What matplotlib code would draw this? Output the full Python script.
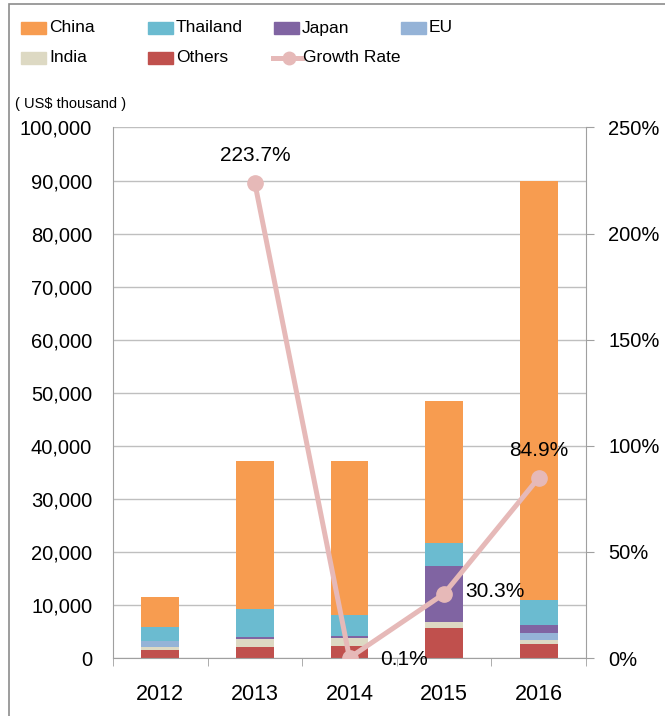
import numpy as np
import matplotlib.pyplot as plt
from matplotlib.patches import Rectangle
from matplotlib.lines import Line2D
from matplotlib.ticker import FuncFormatter

plt.rcParams['font.family'] = ['Liberation Sans', 'DejaVu Sans']

years = ['2012', '2013', '2014', '2015', '2016']
others = [1570, 2000, 2190, 5740, 2580]
india = [430, 1580, 1640, 1000, 760]
eu = [1260, 0, 0, 0, 1380]
japan = [0, 380, 370, 10620, 1450]
thailand = [2510, 5340, 3840, 4340, 4730]
china = [5730, 27900, 29160, 26800, 79000]
growth = [np.nan, 223.7, 0.1, 30.3, 84.9]
growth_labels = ['', '223.7%', '0.1%', '30.3%', '84.9%']

series = [('Others', others, '#C0504D'), ('India', india, '#DDD9C3'),
          ('EU', eu, '#95B3D7'), ('Japan', japan, '#8064A2'),
          ('Thailand', thailand, '#6BBBD0'), ('China', china, '#F79C50')]

W, H = 665, 716
fig = plt.figure(figsize=(W / 100, H / 100), dpi=100)
ax = fig.add_axes([113 / W, 1 - 658 / H, (586 - 113) / W, (658 - 127.5) / H])
ax2 = ax.twinx()

x = np.arange(len(years))
bottom = np.zeros(len(years))
for name, vals, col in series:
    ax.bar(x, vals, 0.4, bottom=bottom, color=col, zorder=2)
    bottom += np.array(vals)

ax.set_ylim(0, 100000)
ax.set_xlim(-0.5, 4.5)
ax.set_yticks(np.arange(0, 100001, 10000))
ax.yaxis.set_major_formatter(FuncFormatter(lambda v, p: f'{int(v):,}'))
ax.grid(axis='y', color='#BFBFBF', linewidth=1, zorder=0)
ax.set_xticks(x)
ax.set_xticklabels(years)
ax.set_xticks(np.arange(-0.5, 4.6, 1), minor=True)
ax.tick_params(axis='x', which='major', length=0, labelsize=15.5, pad=19)
ax.tick_params(axis='x', which='minor', length=6, color='#A0A0A0')
ax.tick_params(axis='y', length=0, labelsize=14.5, pad=15)
for s in ['top', 'right', 'left']:
    ax.spines[s].set_visible(False)
ax.spines['bottom'].set_color('#A0A0A0')
ax2.spines['left'].set_color('#A0A0A0')
ax2.spines['right'].set_color('#A0A0A0')
for s in ['top', 'bottom']:
    ax2.spines[s].set_visible(False)

ax2.plot(x, growth, color='#E6B9B8', linewidth=3.6, marker='o', markersize=11,
         zorder=3)
ax2.set_ylim(0, 250)
ax2.set_yticks(np.arange(0, 251, 50))
ax2.yaxis.set_major_formatter(FuncFormatter(lambda v, p: f'{int(v)}%'))
ax2.tick_params(axis='y', length=6, color='#A0A0A0', labelsize=14.5, pad=10)

offsets = [(0, 0), (0.0, 13), (0.32, -1), (0.22, 1), (0.0, 13)]
for i in range(1, 5):
    ax2.text(x[i] + offsets[i][0], growth[i] + offsets[i][1], growth_labels[i],
             fontsize=15, ha='center' if i in (1, 4) else 'left', va='center',
             zorder=4)

fig.text(15 / W, 1 - 104 / H, r'( US\$ thousand )', fontsize=10.5, ha='left',
         va='center')

order = ['China', 'Thailand', 'Japan', 'EU', 'India', 'Others']
cols = dict((n, c) for n, v, c in series)
pos = {'China': (21, 28), 'Thailand': (148, 28), 'Japan': (274, 28), 'EU': (401, 28),
       'India': (21, 58), 'Others': (148, 58)}
for n in order:
    px, py = pos[n]
    fig.patches.append(Rectangle((px / W, 1 - (py + 5.5) / H), 25 / W, 11 / H,
                                 transform=fig.transFigure, color=cols[n]))
    fig.text((px + 28) / W, 1 - py / H, n, fontsize=12.5, va='center', ha='left')
fig.lines.append(Line2D([273 / W, 302 / W], [1 - 58 / H, 1 - 58 / H],
                        transform=fig.transFigure, color='#E6B9B8', linewidth=3.6))
fig.lines.append(Line2D([289 / W], [1 - 58 / H], transform=fig.transFigure,
                        color='#E6B9B8', marker='o', markersize=9))
fig.text(303 / W, 1 - 58 / H, 'Growth Rate', fontsize=12.5, va='center', ha='left')

fig.patches.append(Rectangle((9 / W, -0.01), 1, 1 - 4 / H + 0.01,
                             transform=fig.transFigure, fill=False,
                             edgecolor='#8C8C8C', linewidth=1.2))

fig.savefig('out.png', dpi=100)
